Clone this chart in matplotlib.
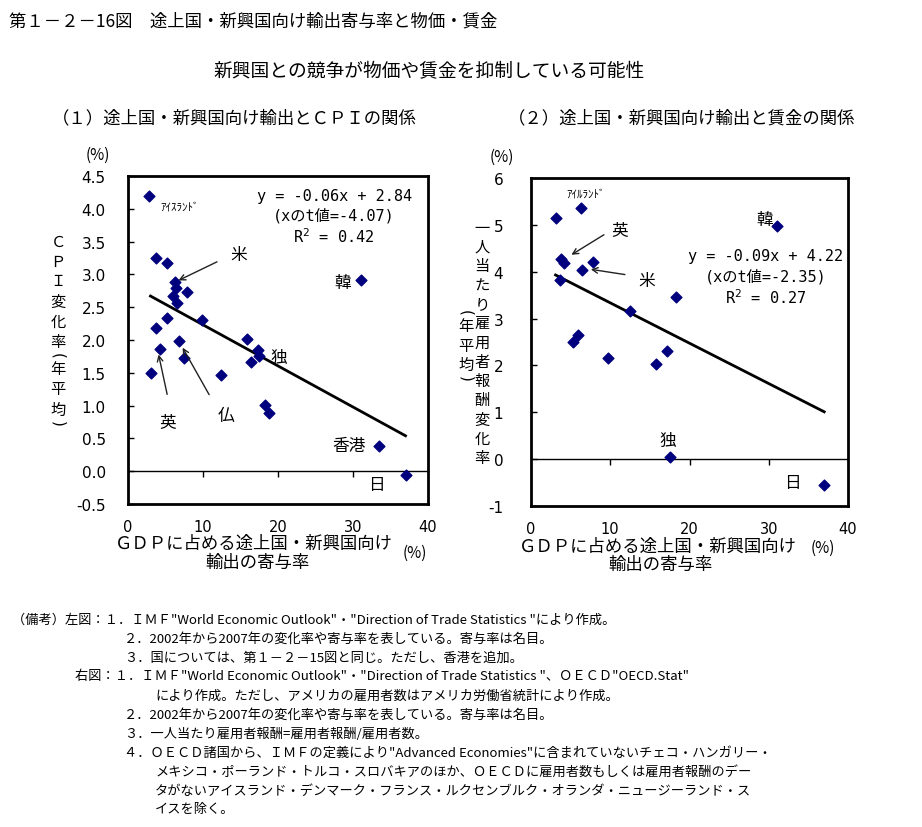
import matplotlib
matplotlib.use("Agg")
import matplotlib.pyplot as plt

plt.rcParams['font.family'] = ['Noto Sans CJK JP', 'DejaVu Sans']

# ---------------- data ----------------
# (1) exports share vs CPI
cpi_x = [2.8, 3.7, 5.2, 6.3, 6.4, 7.8, 6.0, 6.5, 5.2, 9.8, 3.7,
         15.8, 6.8, 4.3, 17.3, 17.5, 7.4, 16.4, 3.1, 12.4, 18.3, 18.8,
         31.0, 33.5, 37.0]
cpi_y = [4.20, 3.25, 3.18, 2.89, 2.80, 2.73, 2.67, 2.56, 2.34, 2.30, 2.19,
         2.01, 1.98, 1.87, 1.85, 1.76, 1.72, 1.66, 1.50, 1.46, 1.01, 0.88,
         2.92, 0.38, -0.06]
cpi_trend_x = [3.0, 37.0]
cpi_trend_y = [2.67, 0.54]

# (2) exports share vs wages
wage_x = [3.1, 6.3, 31.1, 3.8, 4.2, 7.8, 6.4, 3.6, 18.3, 12.5,
          5.9, 5.3, 9.7, 17.2, 15.8, 17.5, 37.0]
wage_y = [5.15, 5.37, 4.97, 4.27, 4.18, 4.20, 4.03, 3.82, 3.45, 3.16,
          2.65, 2.51, 2.16, 2.31, 2.04, 0.05, -0.56]
wage_trend_x = [3.1, 37.0]
wage_trend_y = [3.93, 1.01]

x_ticks = [0, 10, 20, 30, 40]
cpi_ticks = [-0.5, 0.0, 0.5, 1.0, 1.5, 2.0, 2.5, 3.0, 3.5, 4.0, 4.5]
wage_ticks = [-1, 0, 1, 2, 3, 4, 5, 6]

W, H = 922, 828
fig = plt.figure(figsize=(W / 100, H / 100), dpi=100)

def fx(px):
    return px / W

def fy(py):
    return 1 - py / H

MARK = '#00007F'
eqfont = ['DejaVu Sans Mono', 'Noto Sans CJK JP']

def style_axes(ax, ylo, yhi, yticks, fmt, pad):
    ax.set_xlim(0, 40)
    ax.set_ylim(ylo, yhi)
    ax.set_xticks(x_ticks)
    ax.set_xticklabels([str(t) for t in x_ticks], fontsize=10.5, fontfamily='DejaVu Sans')
    ax.set_yticks(yticks)
    ax.set_yticklabels([fmt(t) for t in yticks], fontsize=11, fontfamily='DejaVu Sans')
    ax.tick_params(axis='y', direction='in', length=4, width=1, pad=pad)
    ax.tick_params(axis='x', length=0, pad=11)
    for s in ax.spines.values():
        s.set_linewidth(2)
    ax.axhline(0, color='black', lw=1)
    frac = (0 - ylo) / (yhi - ylo)
    sec = ax.secondary_xaxis(frac)
    sec.set_xticks(x_ticks[1:-1])
    sec.set_xticklabels([])
    sec.tick_params(direction='out', length=4, width=1)
    sec.spines['bottom'].set_visible(False)

# ---------------- left chart ----------------
ax1 = fig.add_axes([fx(128), fy(505), fx(428) - fx(128), fy(177) - fy(505)])
style_axes(ax1, -0.5, 4.5, cpi_ticks, lambda t: f"{t:.1f}", 16)
ax1.scatter(cpi_x, cpi_y, marker='D', s=30, color=MARK, zorder=3)
ax1.plot(cpi_trend_x, cpi_trend_y, color='black', lw=2)

ax1.text(27.5, 4.20, 'y = -0.06x + 2.84', ha='center', va='center', fontsize=11, family=eqfont)
ax1.text(27.5, 3.91, '(xのt値=-4.07)', ha='center', va='center', fontsize=11, family=eqfont)
ax1.text(27.5, 3.59, 'R$^2$ = 0.42', ha='center', va='center', fontsize=11, family=eqfont)

ax1.text(6.9, 4.03, 'ｱｲｽﾗﾝﾄﾞ', ha='center', va='center', fontsize=8)
ax1.text(28.6, 2.88, '韓', ha='center', va='center', fontsize=12)
ax1.text(20.1, 1.74, '独', ha='center', va='center', fontsize=12)
ax1.text(29.4, 0.39, '香港', ha='center', va='center', fontsize=12)
ax1.text(33.1, -0.21, '日', ha='center', va='center', fontsize=12)
ax1.text(14.8, 3.31, '米', ha='center', va='center', fontsize=12)
ax1.text(5.3, 0.75, '英', ha='center', va='center', fontsize=12)
ax1.text(13.0, 0.85, '仏', ha='center', va='center', fontsize=12)
arrow = dict(arrowstyle='->', color='#222222', lw=1)
ax1.annotate('', xy=(6.4, 2.89), xytext=(12.2, 3.21), arrowprops=arrow)
ax1.annotate('', xy=(4.0, 1.82), xytext=(5.3, 1.13), arrowprops=arrow)
ax1.annotate('', xy=(7.1, 1.92), xytext=(11.0, 1.13), arrowprops=arrow)

# ---------------- right chart ----------------
ax2 = fig.add_axes([fx(531), fy(507), fx(848) - fx(531), fy(179) - fy(507)])
style_axes(ax2, -1, 6, wage_ticks, lambda t: f"{t:d}", 20)
ax2.scatter(wage_x, wage_y, marker='D', s=30, color=MARK, zorder=3)
ax2.plot(wage_trend_x, wage_trend_y, color='black', lw=2)

ax2.text(29.6, 4.34, 'y = -0.09x + 4.22', ha='center', va='center', fontsize=11, family=eqfont)
ax2.text(29.6, 3.91, '(xのt値=-2.35)', ha='center', va='center', fontsize=11, family=eqfont)
ax2.text(29.6, 3.46, 'R$^2$ = 0.27', ha='center', va='center', fontsize=11, family=eqfont)

ax2.text(6.9, 5.66, 'ｱｲﾙﾗﾝﾄﾞ', ha='center', va='center', fontsize=8)
ax2.text(29.5, 5.12, '韓', ha='center', va='center', fontsize=12)
ax2.text(11.2, 4.91, '英', ha='center', va='center', fontsize=12)
ax2.text(14.6, 3.81, '米', ha='center', va='center', fontsize=12)
ax2.text(17.3, 0.39, '独', ha='center', va='center', fontsize=12)
ax2.text(33.0, -0.50, '日', ha='center', va='center', fontsize=12)
ax2.annotate('', xy=(4.8, 4.33), xytext=(9.5, 4.82), arrowprops=arrow)
ax2.annotate('', xy=(7.2, 4.06), xytext=(12.2, 3.93), arrowprops=arrow)

# ---------------- texts ----------------
fig.text(fx(9), fy(22), '第１－２－16図　途上国・新興国向け輸出寄与率と物価・賃金',
         ha='left', va='center', fontsize=12.5)
fig.text(fx(429), fy(72), '新興国との競争が物価や賃金を抑制している可能性',
         ha='center', va='center', fontsize=13.5)
fig.text(fx(52), fy(118), '（１）途上国・新興国向け輸出とＣＰＩの関係',
         ha='left', va='center', fontsize=12.5)
fig.text(fx(508), fy(118), '（２）途上国・新興国向け輸出と賃金の関係',
         ha='left', va='center', fontsize=12.5)

fig.text(fx(98), fy(155), '(%)', ha='center', va='center', fontsize=11)
fig.text(fx(502), fy(157), '(%)', ha='center', va='center', fontsize=11)

def vtext(x, ytop, s, size=11, step=20.0, pstep=14.0):
    y = ytop
    prev_paren = False
    for i, ch in enumerate(s):
        paren = ch in '()'
        if i > 0:
            y += pstep if (paren or prev_paren) else step
        fig.text(fx(x), fy(y), ch, ha='center', va='center', fontsize=size,
                 rotation=-90 if paren else 0, family='DejaVu Sans' if paren else None)
        prev_paren = paren

vtext(58, 242, 'ＣＰＩ変化率(年平均)')
vtext(482, 228, '一人当たり雇用者報酬変化率', step=19.2)
vtext(466, 313, '(年平均)', step=19.0)

fig.text(fx(254), fy(544), 'ＧＤＰに占める途上国・新興国向け', ha='center', va='center', fontsize=12.5)
fig.text(fx(257), fy(563), '輸出の寄与率', ha='center', va='center', fontsize=12.5)
fig.text(fx(415), fy(553), '(%)', ha='center', va='center', fontsize=11)
fig.text(fx(658), fy(547), 'ＧＤＰに占める途上国・新興国向け', ha='center', va='center', fontsize=12.5)
fig.text(fx(660), fy(565), '輸出の寄与率', ha='center', va='center', fontsize=12.5)
fig.text(fx(823), fy(548), '(%)', ha='center', va='center', fontsize=11)

notes = [
    (12, 620, '（備考）左図：１．ＩＭＦ"World Economic Outlook"・"Direction of Trade Statistics "により作成。'),
    (124, 639, '２．2002年から2007年の変化率や寄与率を表している。寄与率は名目。'),
    (124, 658, '３．国については、第１－２－15図と同じ。ただし、香港を追加。'),
    (75, 677, '右図：１．ＩＭＦ"World Economic Outlook"・"Direction of Trade Statistics "、ＯＥＣＤ"OECD.Stat"'),
    (155, 696, 'により作成。ただし、アメリカの雇用者数はアメリカ労働省統計により作成。'),
    (124, 715, '２．2002年から2007年の変化率や寄与率を表している。寄与率は名目。'),
    (124, 734, '３．一人当たり雇用者報酬=雇用者報酬/雇用者数。'),
    (124, 753, '４．ＯＥＣＤ諸国から、ＩＭＦの定義により"Advanced Economies"に含まれていないチェコ・ハンガリー・'),
    (155, 772, 'メキシコ・ポーランド・トルコ・スロバキアのほか、ＯＥＣＤに雇用者数もしくは雇用者報酬のデー'),
    (155, 791, 'タがないアイスランド・デンマーク・フランス・ルクセンブルク・オランダ・ニュージーランド・ス'),
    (155, 810, 'イスを除く。'),
]
for x, y, s in notes:
    fig.text(fx(x), fy(y), s, ha='left', va='center', fontsize=9.5)

fig.savefig('out.png', dpi=100)
